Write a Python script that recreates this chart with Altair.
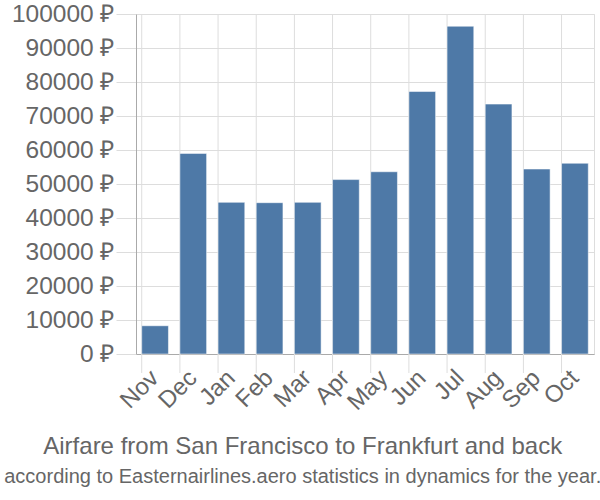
import altair as alt
import pandas as pd

months = ["Nov", "Dec", "Jan", "Feb", "Mar", "Apr", "May", "Jun", "Jul", "Aug", "Sep", "Oct"]
prices = [8300, 59000, 44600, 44500, 44600, 51300, 53600, 77200, 96400, 73500, 54400, 56100]
y_ticks = [0, 10000, 20000, 30000, 40000, 50000, 60000, 70000, 80000, 90000, 100000]

df = pd.DataFrame({"month": months, "price": prices})

FONT = "Liberation Sans"
GRID = "#dddddd"
TEXT = "#666666"

xscale = alt.Scale(domain=months, paddingInner=0.3, paddingOuter=0.15)

bars = alt.Chart(df).mark_bar(color="#4e79a7", stroke="#ffffff", strokeOpacity=0.5, strokeWidth=1).encode(
    x=alt.X("month:N", sort=months, scale=xscale, title=None,
            axis=alt.Axis(labelAngle=-45, labelAlign="right", labelBaseline="middle",
                          labelFontSize=24, labelColor=TEXT, labelFont=FONT,
                          ticks=False, grid=False, domain=True, domainColor="#aaaaaa",
                          labelPadding=20)),
    y=alt.Y("price:Q", scale=alt.Scale(domain=[0, 100000], nice=False), title=None,
            axis=alt.Axis(values=y_ticks, labelExpr="datum.value + ' ₽'",
                          labelFontSize=24.5, labelColor=TEXT, labelFont=FONT,
                          tickSize=20, tickColor=GRID, gridColor=GRID, labelPadding=2,
                          domainColor="#aaaaaa")),
)

grid = alt.Chart(df).mark_rule(color=GRID, strokeWidth=1).encode(
    x=alt.X("month:N", sort=months, scale=xscale, bandPosition=0),
    y=alt.value(0),
    y2=alt.value(359),
)

chart = alt.layer(grid, bars).properties(
    width=458,
    height=340,
    autosize=alt.AutoSizeParams(type="none"),
    padding={"left": 136, "top": 14, "right": 6, "bottom": 146},
    title=alt.Title(
        "Airfare from San Francisco to Frankfurt and back",
        subtitle="according to Easternairlines.aero statistics in dynamics for the year.",
        orient="bottom", anchor="middle", frame="bounds", fontSize=24, subtitleFontSize=20,
        font=FONT, subtitleFont=FONT, color=TEXT, subtitleColor=TEXT,
        fontWeight="normal", offset=20, subtitlePadding=8,
    ),
).configure_view(stroke=GRID).configure(background="white")

chart.save("out.html", embed_options={"renderer": "svg", "actions": False})
